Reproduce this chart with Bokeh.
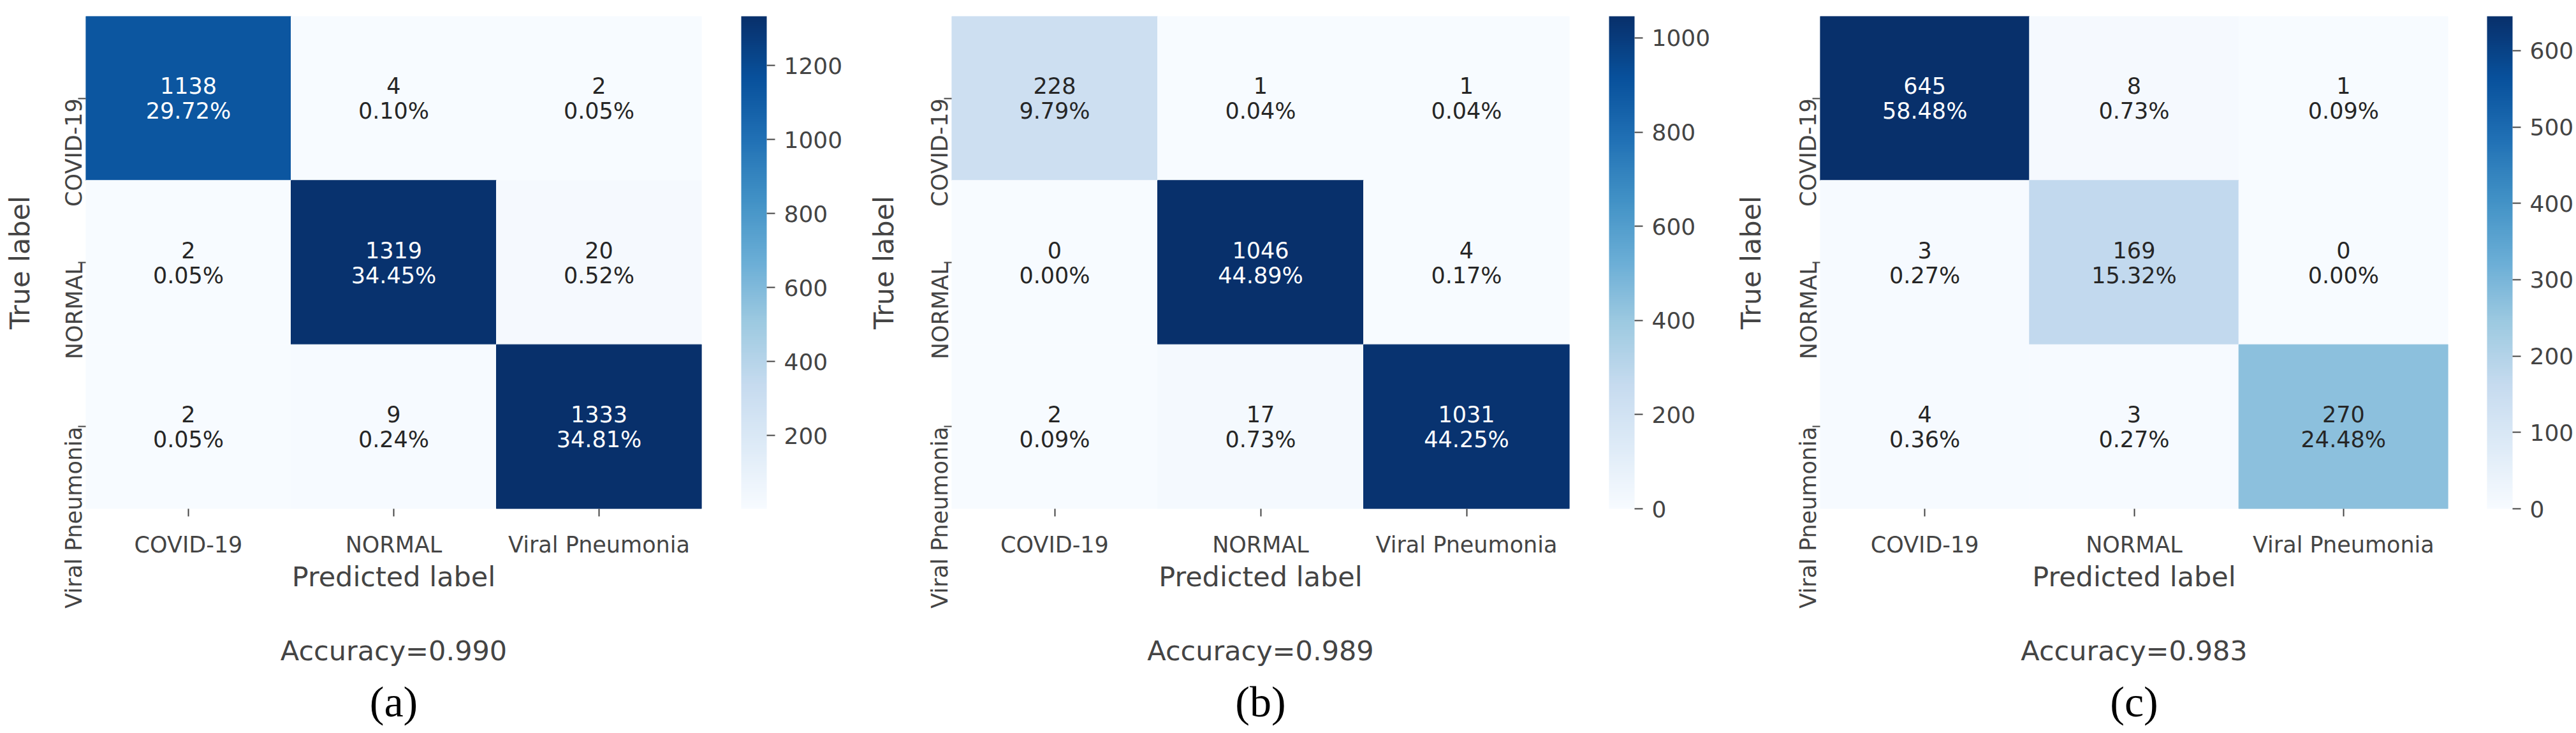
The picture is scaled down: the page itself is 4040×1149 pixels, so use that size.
import math
from bokeh.plotting import figure
from bokeh.models import (Range1d, FactorRange, FixedTicker, LinearColorMapper, ColorBar,
                          Title, ColumnDataSource)
from bokeh.layouts import row
from bokeh.palettes import Blues256
from bokeh.embed import file_html
from bokeh.resources import INLINE
from bokeh.core.properties import value

# ---------------- data ----------------
categories = ["COVID-19", "NORMAL", "Viral Pneumonia"]
counts_a = [[1138, 4, 2], [2, 1319, 20], [2, 9, 1333]]
counts_b = [[228, 1, 1], [0, 1046, 4], [2, 17, 1031]]
counts_c = [[645, 8, 1], [3, 169, 0], [4, 3, 270]]
cbar_ticks_a = [200, 400, 600, 800, 1000, 1200]
cbar_ticks_b = [0, 200, 400, 600, 800, 1000]
cbar_ticks_c = [0, 100, 200, 300, 400, 500, 600]
panel_tags = ["(a)", "(b)", "(c)"]

# ---------------- style ----------------
FONT = "DejaVu Sans"
GRAY = "#444444"
DARK = "#262626"
H = 1149


def lum(h):
    h = h.lstrip("#")
    out = []
    for k in range(3):
        c = int(h[2 * k:2 * k + 2], 16) / 255.0
        out.append(c / 12.92 if c <= 0.03928 else ((c + 0.055) / 1.055) ** 2.4)
    return 0.2126 * out[0] + 0.7152 * out[1] + 0.0722 * out[2]


pal = list(Blues256)
if lum(pal[0]) < lum(pal[-1]):
    pal = pal[::-1]  # light -> dark


def make_panel(counts, ticks, tag, lay):
    n = len(categories)
    flat = [v for r in counts for v in r]
    total = sum(flat)
    lo, hi = min(flat), max(flat)
    mapper = LinearColorMapper(palette=pal, low=lo, high=hi)

    xs, ys, vals, ctext, ptext, tcol = [], [], [], [], [], []
    for i, r in enumerate(counts):
        for j, v in enumerate(r):
            xs.append(categories[j])
            ys.append(i + 0.5)
            vals.append(v)
            ctext.append(str(v))
            ptext.append("{:.2%}".format(v / total))
            idx = int((v - lo) / (hi - lo) * len(pal))
            idx = max(0, min(len(pal) - 1, idx))
            tcol.append(DARK if lum(pal[idx]) > 0.408 else "white")
    src = ColumnDataSource(dict(x=xs, y=ys, v=vals, c=ctext, p=ptext, tc=tcol))

    p = figure(width=lay["w"], height=H, x_range=FactorRange(*categories),
               y_range=Range1d(n, 0), output_backend="svg", toolbar_location=None,
               tools="", min_border_left=lay["bl"], min_border_right=lay["br"],
               min_border_top=lay["bt"], min_border_bottom=lay["bb"])
    p.outline_line_color = None
    p.grid.visible = False
    p.background_fill_color = "white"
    p.border_fill_color = "white"

    p.rect(x="x", y="y", width=1, height=1, source=src,
           fill_color={"field": "v", "transform": mapper},
           line_color={"field": "v", "transform": mapper}, line_width=1)
    p.text(x="x", y="y", text="c", source=src, text_color="tc", text_align="center",
           text_baseline="middle", y_offset=-20, text_font=value(FONT), text_font_size="35px")
    p.text(x="x", y="y", text="p", source=src, text_color="tc", text_align="center",
           text_baseline="middle", y_offset=20, text_font=value(FONT), text_font_size="35px")

    acc = sum(counts[k][k] for k in range(n)) / total

    # x axis (label carries the accuracy line, as in the original)
    xa = p.xaxis[0]
    xa.axis_line_color = None
    xa.major_tick_out = 12
    xa.major_tick_in = 0
    xa.major_tick_line_color = GRAY
    xa.major_tick_line_width = 2
    xa.major_label_text_font = FONT
    xa.major_label_text_font_size = "35px"
    xa.major_label_text_color = GRAY
    xa.major_label_standoff = 24
    xa.axis_label = "Predicted label\n\nAccuracy={:.3f}".format(acc)
    xa.axis_label_text_font = FONT
    xa.axis_label_text_font_size = "43px"
    xa.axis_label_text_font_style = "normal"
    xa.axis_label_text_color = GRAY
    xa.axis_label_text_line_height = 1.16
    xa.axis_label_standoff = 2

    # y axis: rotated names hang below their tick
    ya = p.yaxis[0]
    tick_pos = [i + 0.5 for i in range(n)]
    ya.ticker = FixedTicker(ticks=tick_pos)
    ya.major_label_overrides = {pos: categories[i] for i, pos in enumerate(tick_pos)}
    ya.major_label_orientation = math.pi / 2
    ya.major_label_text_font = FONT
    ya.major_label_text_font_size = "35px"
    ya.major_label_text_color = GRAY
    ya.major_label_standoff = 6
    ya.axis_line_color = None
    ya.major_tick_out = 12
    ya.major_tick_in = 0
    ya.major_tick_line_color = GRAY
    ya.major_tick_line_width = 2
    ya.minor_tick_line_color = None
    ya.axis_label = "True label"
    ya.axis_label_text_font = FONT
    ya.axis_label_text_font_size = "43px"
    ya.axis_label_text_font_style = "normal"
    ya.axis_label_text_color = GRAY
    ya.axis_label_standoff = lay["yls"]

    cb = ColorBar(color_mapper=mapper, ticker=FixedTicker(ticks=ticks), width=40,
                  padding=0, location=(lay["cbx"], 0), major_tick_out=13, major_tick_in=0,
                  major_tick_line_color=GRAY, major_tick_line_width=2,
                  major_label_text_font=FONT, major_label_text_font_size="36px",
                  major_label_text_color=GRAY, label_standoff=14,
                  bar_line_color=None, border_line_color=None, background_fill_color=None)
    p.add_layout(cb, "right")

    p.add_layout(Title(text=tag, align="center", text_font="Liberation Serif",
                       text_font_size="68px", text_font_style="normal", text_color="black",
                       standoff=lay["tst"]), "below")
    return p


layouts = [
    dict(w=1340, bl=134, br=240, bt=25, bb=339, yls=18, cbx=62, tst=24),
    dict(w=1360, bl=152, br=239, bt=22, bb=339, yls=21, cbx=62, tst=24),
    dict(w=1340, bl=154, br=201, bt=7, bb=343, yls=23, cbx=61, tst=24),
]
all_counts = [counts_a, counts_b, counts_c]
all_ticks = [cbar_ticks_a, cbar_ticks_b, cbar_ticks_c]

panels = [make_panel(all_counts[k], all_ticks[k], panel_tags[k], layouts[k]) for k in range(3)]
lay = row(*panels)

open("out.html", "w").write(file_html(lay, INLINE))
